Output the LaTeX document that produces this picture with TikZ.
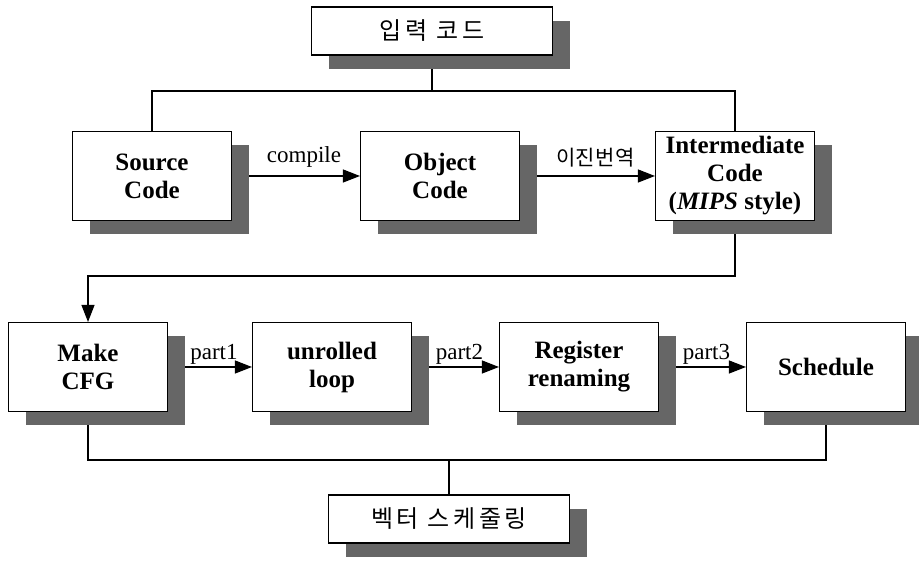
\documentclass[tikz,border=0pt]{standalone}
\usepackage{fontspec}
\setmainfont{Liberation Serif}
\newfontfamily\krfont[LetterSpace=15]{Noto Sans CJK KR}
\usetikzlibrary{arrows.meta, shadows, backgrounds}

\begin{document}
\begin{tikzpicture}[x=1pt, y=1pt,
                    box/.style={draw, line width=1.1pt, fill=white, align=center, minimum width=159pt, minimum height=89pt, font=\fontsize{25}{28}\selectfont\bfseries, drop shadow={shadow xshift=17pt, shadow yshift=-14pt, fill=black!60, opacity=1}},
                    titlebox/.style={box, minimum width=241pt, minimum height=48pt, font=\krfont\fontsize{24}{26}\selectfont},
                    lbl/.style={above, inner sep=2pt, font=\fontsize{23}{26}\selectfont},
                    arr/.style={-{Triangle[length=17pt, width=13pt]}, line width=1.1pt},
                    bus/.style={line width=1.1pt}]
        \useasboundingbox (0,0) rectangle (919,562);
        \node[titlebox] (inp) at (432,531) {입력 코드};
        \node[box] (src) at (152,386) {Source\\Code};
        \node[box] (obj) at (440,386) {Object\\Code};
        \node[box] (imc) at (735,386) {Intermediate\\Code\\(\textit{MIPS} style)};
        \node[box] (cfg) at (88,195) {Make\\CFG};
        \node[box] (unr) at (332,195) {unrolled\\loop};
        \node[box] (reg) at (579,195) {Register\\renaming};
        \node[box] (sch) at (826,195) {Schedule};
        \node[titlebox] (vec) at (449,43) {벡터 스케줄링};
        \coordinate (tbus) at (0,471);
        \coordinate (mbus) at (0,286);
        \coordinate (bbus) at (0,102);
        \begin{scope}[on background layer]
            \draw[bus] (inp.south) -- (inp.south |- tbus);
            \draw[bus] (src.north) -- (src.north |- tbus) -- (imc.north |- tbus) -- (imc.north);
            \draw[arr] (src.east) -- node[lbl, xshift=8pt, yshift=6pt] {compile} (obj.west);
            \draw[arr] (obj.east) -- node[lbl, xshift=8pt, yshift=6pt, font=\krfont\addfontfeature{LetterSpace=2}\fontsize{21}{24}\selectfont] {이진번역} (imc.west);
            \draw[arr] (imc.south) -- (imc.south |- mbus) -- (cfg.north |- mbus) -- (cfg.north);
            \draw[arr] (cfg.east) -- node[lbl, xshift=4pt] {part1} (unr.west);
            \draw[arr] (unr.east) -- node[lbl, xshift=4pt] {part2} (reg.west);
            \draw[arr] (reg.east) -- node[lbl, xshift=4pt] {part3} (sch.west);
            \draw[bus] (cfg.south) -- (cfg.south |- bbus) -- (sch.south |- bbus) -- (sch.south);
            \draw[bus] (vec.north) -- (vec.north |- bbus);
        \end{scope}
    \end{tikzpicture}
\end{document}
